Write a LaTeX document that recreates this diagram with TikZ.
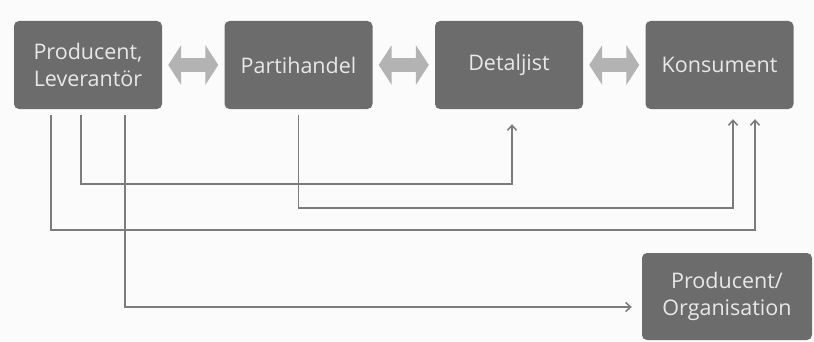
\documentclass[tikz,border=0pt]{standalone}
\usepackage{fontspec}
\setmainfont{Open Sans}
\usepackage{tikz}
\usetikzlibrary{arrows.meta}
\usetikzlibrary{positioning, shapes.arrows}
\definecolor{boxgray}{HTML}{6C6C6C}
\definecolor{txtgray}{HTML}{E8E8E8}
\definecolor{arrgray}{HTML}{B3B3B3}
\definecolor{linegray}{HTML}{7C7C7C}
\definecolor{bggray}{HTML}{FBFBFB}

\begin{document}
\begin{tikzpicture}[x=1pt,y=1pt,node distance=210.5pt,on grid,
		box/.style={rectangle,rounded corners=5pt,fill=boxgray,text=txtgray,
			minimum width=148pt,minimum height=88pt,align=center,
			font=\fontsize{21.5}{27}\selectfont},
		dblarrow/.style={double arrow,fill=arrgray,minimum width=40pt,
			minimum height=50pt,double arrow head extend=13pt,
			double arrow tip angle=114,inner xsep=0pt,inner ysep=6.5pt},
		link/.style={draw=linegray,line width=1.5pt,-{Straight Barb[length=5pt,width=9pt]}}]
			\fill[bggray] (0,0) rectangle (814,341);
			\useasboundingbox (0,0) rectangle (814,341);
			\node[box] (prod) at (88,276) {Producent,\\Leverantör};
			\node[box] (parti) [right=of prod] {Partihandel};
			\node[box] (detalj) [right=of parti] {Detaljist};
			\node[box] (kons) [right=of detalj] {Konsument};
			\node[box,minimum width=170pt,minimum height=87pt] (org) at (727,44.5) {Producent/\\Organisation};
			\node[dblarrow] (a1) [right=105.25pt of prod] {};
			\node[dblarrow] (a2) [right=105.25pt of parti] {};
			\node[dblarrow] (a3) [right=105.25pt of detalj] {};
			\draw[link] ([xshift=-7,yshift=-6]prod.south) -- ++(0,-69) -| ([xshift=3,yshift=-15]detalj.south);
			\draw[link] ([yshift=-6]parti.south) -- ++(0,-93) -| ([xshift=13.5,yshift=-10]kons.south);
			\draw[link] ([xshift=-37,yshift=-6]prod.south) -- ++(0,-115) -| ([xshift=35.5,yshift=-10]kons.south);
			\draw[link] ([xshift=37,yshift=-6]prod.south) |- ([xshift=-10,yshift=-10.5]org.west);
		\end{tikzpicture}
\end{document}
